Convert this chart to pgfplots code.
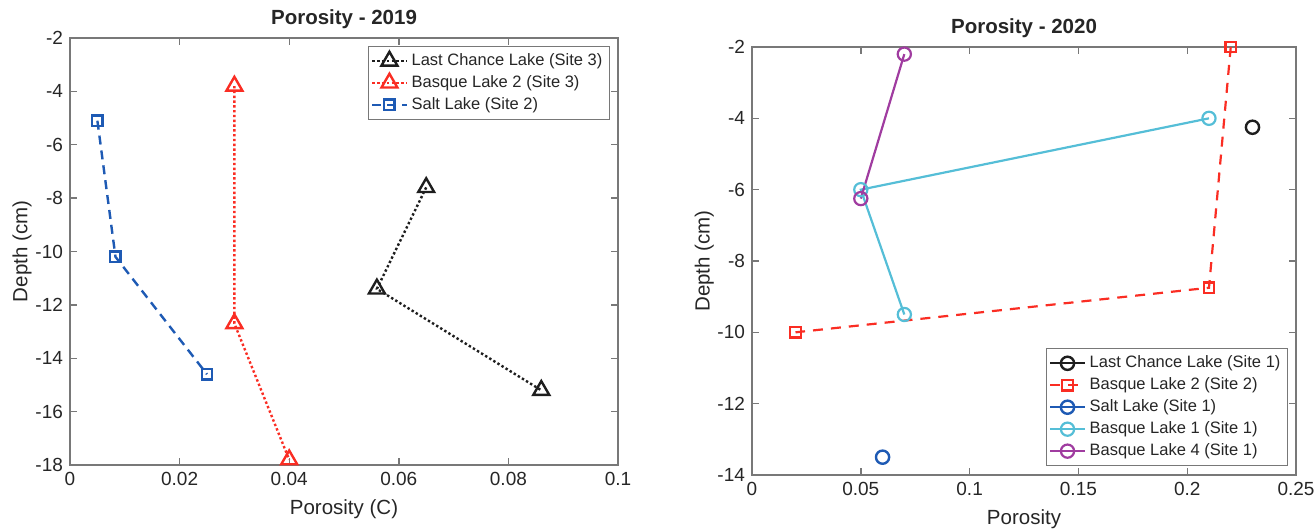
\documentclass[border=0pt]{standalone}
\usepackage{pgfplots}
\pgfplotsset{compat=1.18}
\usepackage{fontspec}
\setmainfont{Liberation Sans}
\definecolor{axgray}{RGB}{120,120,120}
\definecolor{txt}{RGB}{38,38,38}
\definecolor{mred}{RGB}{250,45,35}
\definecolor{mblue}{RGB}{30,90,180}
\definecolor{mcyan}{RGB}{85,190,215}
\definecolor{mpurple}{RGB}{160,60,160}
\definecolor{mblack}{RGB}{30,30,30}

\pgfplotsset{mat/.style={
  scale only axis,
  axis line style={axgray, line width=0.7pt},
  tick style={axgray, line width=0.7pt},
  major tick length=3.5pt,
  tick align=inside,
  every tick label/.append style={font=\fontsize{9.5}{11}\selectfont, text=txt},
  label style={font=\fontsize{10.25}{12}\selectfont, text=txt},
  ylabel shift=-5pt,
  title style={font=\bfseries\fontsize{10.25}{12}\selectfont, text=txt, yshift=-5pt},
  /pgf/number format/assume math mode=true,
  scaled x ticks=false,
  xticklabel style={/pgf/number format/fixed, /pgf/number format/precision=2},
  legend style={font=\fontsize{8.25}{9.5}\selectfont, draw=axgray, text=txt, cells={anchor=west}, inner sep=1.5pt, row sep=-0.5pt},
  legend image post style={line width=1.1pt},
  clip=false,
}}

\begin{document}
\begin{tikzpicture}
\path[use as bounding box] (0,0) rectangle (657.5pt,264.5pt);

\begin{axis}[mat,
  at={(35pt,32pt)}, anchor=south west,
  width=274pt, height=213.5pt,
  xmin=0, xmax=0.1, ymin=-18, ymax=-2,
  xtick={0,0.02,0.04,0.06,0.08,0.1},
  ytick={-18,-16,-14,-12,-10,-8,-6,-4,-2},
  title={Porosity - 2019},
  xlabel={Porosity (C)}, ylabel={Depth (cm)},
  legend style={at={(0.985,0.981)}, anchor=north east},
]
\addplot[mblack, line width=1.2pt, dash pattern=on 1.2pt off 1.2pt,
  mark=triangle, mark size=4.6pt, mark options={solid, line width=1.2pt}]
  coordinates {(0.065,-7.6) (0.056,-11.4) (0.086,-15.2)};
\addlegendentry{Last Chance Lake (Site 3)}
\addplot[mred, line width=1.2pt, dash pattern=on 1.2pt off 1.2pt,
  mark=triangle, mark size=4.6pt, mark options={solid, line width=1.2pt}]
  coordinates {(0.03,-3.8) (0.03,-12.7) (0.04,-17.8)};
\addlegendentry{Basque Lake 2 (Site 3)}
\addplot[mblue, line width=1.2pt, dash pattern=on 4.5pt off 3pt,
  mark=square, mark size=2.6pt, mark options={solid, line width=1.2pt}]
  coordinates {(0.005,-5.1) (0.0083,-10.2) (0.025,-14.6)};
\addlegendentry{Salt Lake (Site 2)}
\end{axis}

\begin{axis}[mat,
  at={(376pt,27pt)}, anchor=south west,
  width=272pt, height=214pt,
  xmin=0, xmax=0.25, ymin=-14, ymax=-2,
  xtick={0,0.05,0.1,0.15,0.2,0.25},
  ytick={-14,-12,-10,-8,-6,-4,-2},
  title={Porosity - 2020},
  xlabel={Porosity}, ylabel={Depth (cm)},
  legend style={at={(0.985,0.021)}, anchor=south east},
]
\addplot[mblack, line width=1.1pt, mark=o, mark size=3.3pt, mark options={solid, line width=1.2pt}]
  coordinates {(0.23,-4.25)};
\addlegendentry{Last Chance Lake (Site 1)}
\addplot[mred, line width=1.1pt, dash pattern=on 5pt off 4pt,
  mark=square, mark size=2.6pt, mark options={solid, line width=1.1pt}]
  coordinates {(0.22,-2) (0.21,-8.75) (0.02,-10)};
\addlegendentry{Basque Lake 2 (Site 2)}
\addplot[mblue, line width=1.1pt, mark=o, mark size=3.3pt, mark options={solid, line width=1.2pt}]
  coordinates {(0.06,-13.5)};
\addlegendentry{Salt Lake (Site 1)}
\addplot[mcyan, line width=1.1pt, mark=o, mark size=3.3pt, mark options={solid, line width=1.1pt}]
  coordinates {(0.21,-4) (0.05,-6) (0.07,-9.5)};
\addlegendentry{Basque Lake 1 (Site 1)}
\addplot[mpurple, line width=1.1pt, mark=o, mark size=3.3pt, mark options={solid, line width=1.1pt}]
  coordinates {(0.07,-2.2) (0.05,-6.25)};
\addlegendentry{Basque Lake 4 (Site 1)}
\end{axis}
\end{tikzpicture}
\end{document}
